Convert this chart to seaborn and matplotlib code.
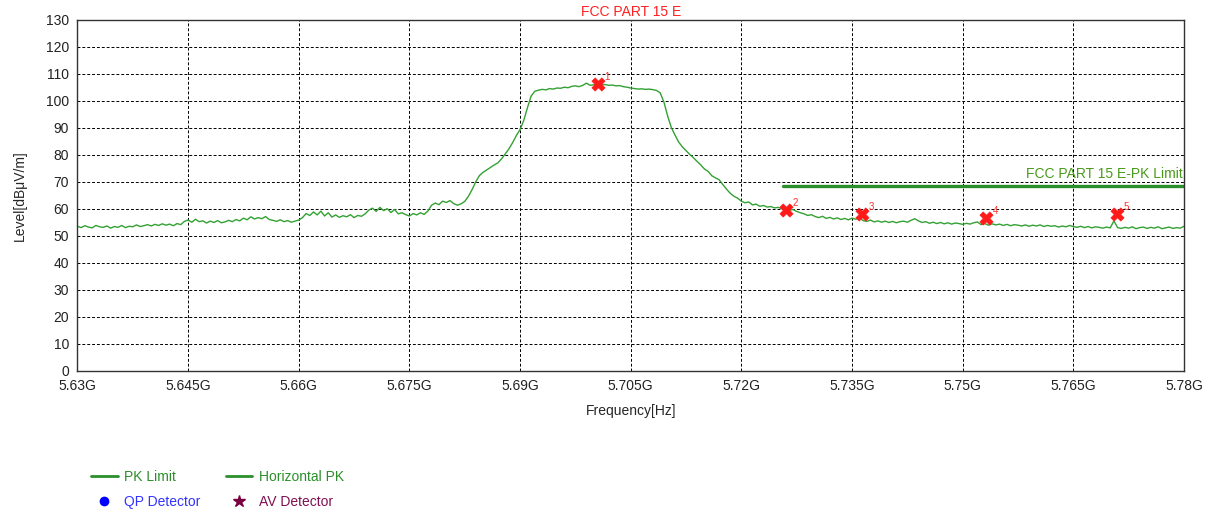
"""FCC PART 15 E radiated emission scan"""

import numpy as np
import pandas as pd
import matplotlib
matplotlib.use("Agg")
import matplotlib.pyplot as plt
from matplotlib.lines import Line2D
import seaborn as sns

# sweep range in GHz
f_start = 5.63
f_stop = 5.78

# measured trace, dBuV/m, one value per 0.5 MHz step
levels = [
    53.6, 53.1, 53.8, 53.3, 53.0, 53.9, 53.4, 53.2, 53.7, 52.9,
    53.5, 53.2, 53.9, 53.1, 53.6, 53.4, 54.1, 53.5, 53.8, 54.2,
    53.7, 54.3, 53.9, 54.5, 54.0, 54.4, 53.8, 54.6, 54.2, 55.4,
    55.9, 55.1, 56.2, 55.3, 55.6, 54.8, 55.5, 55.0, 55.7, 54.9,
    55.2, 55.8, 55.3, 56.1, 55.6, 56.6, 56.0, 57.1, 56.3, 56.8,
    56.4, 57.2, 56.1, 55.8, 55.4, 56.0, 55.3, 55.7, 55.1, 55.5,
    55.9, 56.8, 58.3, 57.6, 58.9, 57.8, 59.2, 57.4, 58.6, 57.0,
    57.8, 56.9, 57.5, 57.1, 57.9, 56.8, 57.6, 57.3, 58.2, 59.6,
    60.3, 59.1, 60.6, 59.4, 60.1, 58.7, 59.8, 58.2, 58.6, 57.9,
    57.4, 58.3, 57.8, 58.6, 58.0, 59.2, 61.4, 62.2, 61.6, 62.9,
    62.4, 63.1, 62.0, 61.4, 61.9, 62.8, 64.7, 67.2, 70.1, 72.4,
    73.6, 74.5, 75.4, 76.3, 77.1, 78.6, 80.4, 82.3, 84.6, 87.2,
    89.4, 92.8, 97.5, 101.8, 103.6, 104.0, 104.3, 104.1, 104.6, 104.4,
    104.8, 104.7, 105.1, 104.9, 105.4, 105.6, 105.3, 105.8, 106.6, 105.8,
    106.0, 106.2, 105.9, 106.1, 105.8, 105.9, 105.6, 105.7, 105.3, 105.1,
    104.8, 104.6, 104.4, 104.5, 104.3, 104.4, 104.2, 103.9, 103.0, 99.6,
    94.5, 90.2, 87.4, 84.8, 83.0, 81.6, 80.2, 79.0, 77.6, 76.3,
    74.8, 73.9, 72.3, 71.5, 70.8, 69.0, 67.3, 65.8, 64.7, 64.0,
    62.9, 62.3, 62.6, 61.5, 61.8, 61.0, 61.3, 60.7, 60.9, 60.4,
    60.6, 60.1, 60.2, 59.5, 59.8, 59.1, 58.6, 58.2, 57.6, 57.9,
    57.2, 56.8, 57.3, 56.5, 56.9, 56.3, 56.7, 56.1, 56.5, 56.0,
    56.6, 56.2, 56.8, 55.7, 55.4, 55.9, 55.2, 55.6, 55.1, 55.5,
    55.0, 55.4, 54.9, 55.3, 55.5, 55.1, 55.8, 56.4, 55.6, 55.0,
    55.3, 54.7, 55.1, 54.6, 55.0, 54.5, 54.9, 54.4, 54.8, 54.6,
    54.3, 54.7, 54.4, 54.9, 55.2, 54.2, 54.6, 54.0, 54.5, 54.1,
    54.4, 53.9, 54.3, 53.8, 54.2, 54.0, 53.7, 54.1, 53.6, 54.0,
    53.7, 54.1, 53.5, 53.9, 53.6, 53.8, 53.3, 53.7, 53.4, 53.9,
    53.5, 53.2, 53.6, 53.1, 53.5, 53.0, 53.4, 53.2, 52.9, 53.3,
    53.0, 55.6, 53.1, 52.8, 53.2, 52.9, 53.4, 52.7, 53.1, 53.3,
    52.8, 53.2, 52.9, 53.4, 52.7, 53.0, 53.3, 52.8, 53.1, 52.9, 53.6,
]

# peak markers
marker_ids = ["1", "2", "3", "4", "5"]
marker_freq = [5.7005, 5.7260, 5.7363, 5.7532, 5.7709]
marker_level = [106.3, 59.6, 58.0, 56.5, 58.0]

# limit line
limit_freq = [5.7256, 5.78]
limit_level = [68.5, 68.5]

x_ticks = [5.63, 5.645, 5.66, 5.675, 5.69, 5.705, 5.72, 5.735, 5.75, 5.765, 5.78]
x_labels = ["5.63G", "5.645G", "5.66G", "5.675G", "5.69G", "5.705G",
            "5.72G", "5.735G", "5.75G", "5.765G", "5.78G"]
y_ticks = list(range(0, 131, 10))

sns.set_style("white")
plt.rcParams["font.family"] = ["Liberation Sans", "DejaVu Sans"]

trace = pd.DataFrame({"freq": np.linspace(f_start, f_stop, len(levels)),
                      "level": levels})
limit = pd.DataFrame({"freq": limit_freq, "level": limit_level})
peaks = pd.DataFrame({"freq": marker_freq, "level": marker_level, "id": marker_ids})

fig = plt.figure(figsize=(12.1, 5.12), dpi=100)
ax = fig.add_axes([0.064, 0.2754, 0.9145, 0.6856])

sns.lineplot(data=trace, x="freq", y="level", ax=ax, color="#33a133", lw=1.0)
sns.lineplot(data=limit, x="freq", y="level", ax=ax, color="#2a8f2a", lw=2.4)
sns.scatterplot(data=peaks, x="freq", y="level", ax=ax, marker="X", s=90,
                color="#ff1a1a", edgecolor="#ff1a1a", linewidth=0.5, zorder=5)
for _, r in peaks.iterrows():
    ax.annotate(r["id"], (r["freq"], r["level"]), xytext=(5, 3),
                textcoords="offset points", color="#ff3030", fontsize=7)

ax.text(0.999, (limit_level[0] + 2) / 130, "FCC PART 15 E-PK Limit",
        transform=ax.transAxes, ha="right", va="bottom",
        color="#4a9a1a", fontsize=10)

ax.set_xlim(f_start, f_stop)
ax.set_ylim(0, 130)
ax.set_xticks(x_ticks)
ax.set_xticklabels(x_labels)
ax.set_yticks(y_ticks)
ax.tick_params(length=0, labelsize=10, colors="#222222", pad=6)
ax.grid(True, color="black", linestyle=(0, (3, 2)), linewidth=0.7)
for s in ax.spines.values():
    s.set_color("#333333")
    s.set_linewidth(1.0)

ax.set_title("FCC PART 15 E", color="#ff2020", fontsize=10, pad=3)
ax.set_xlabel("Frequency[Hz]", fontsize=10, labelpad=8)
ax.set_ylabel("Level[dB\u03bcV/m]", fontsize=10, labelpad=14)

handles = [
    Line2D([], [], color="#2a8f2a", lw=2),
    Line2D([], [], color="blue", marker="o", ls="none", markersize=6),
    Line2D([], [], color="#2a8f2a", lw=2),
    Line2D([], [], color="#7a0040", marker="*", ls="none", markersize=9),
]
labels = ["PK Limit", "QP Detector", "Horizontal PK", "AV Detector"]
fig.legend(handles, labels, loc="lower left", bbox_to_anchor=(0.065, -0.018),
           ncol=2, frameon=False, fontsize=10, handlelength=1.9,
           columnspacing=1.8, labelspacing=0.75, handletextpad=0.5,
           labelcolor=["#2a8f2a", "#3333ff", "#2a8f2a", "#801050"])

fig.savefig("out.png", dpi=100)
